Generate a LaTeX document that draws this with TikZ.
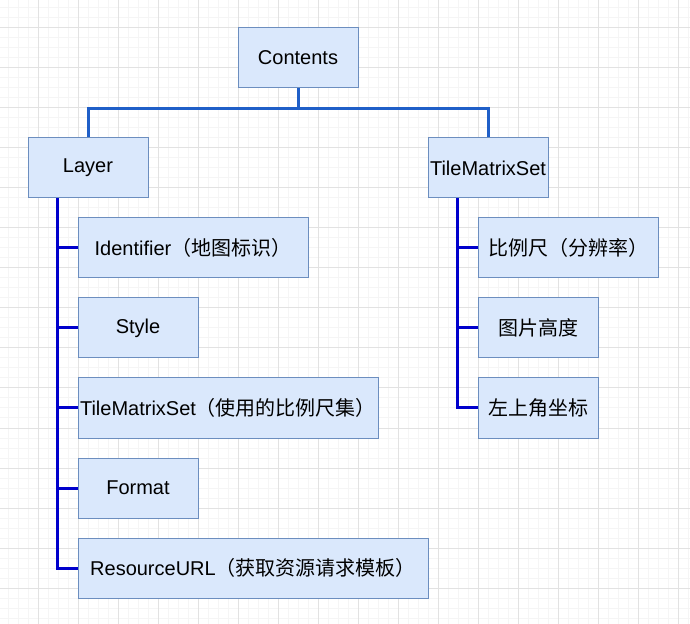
\documentclass[tikz,border=0pt]{standalone}
\usepackage{fontspec}
\setmainfont{Liberation Sans}
\newfontfamily\cjk{Noto Sans CJK SC}
\definecolor{boxfill}{HTML}{DAE8FC}
\definecolor{boxline}{HTML}{6C8EBF}
\definecolor{treeblue}{HTML}{1F5FC8}
\definecolor{leafblue}{HTML}{0000CC}
\definecolor{minorgrid}{HTML}{F5F5F5}
\definecolor{majorgrid}{HTML}{E2E2E2}
\begin{document}
\begin{tikzpicture}[x=0.75pt, y=-0.75pt,
  box/.style={draw=boxline, fill=boxfill, line width=0.75pt, minimum width=90pt,
    minimum height=45pt, inner sep=0pt, font=\fontsize{15}{18}\selectfont},
  tree/.style={draw=treeblue, line width=2.25pt},
  leaf/.style={draw=leafblue, line width=2.25pt}]
\useasboundingbox[fill=white] (0,0) rectangle (690,624);

% grid
\foreach \i in {8,18,...,688}
    \draw[minorgrid, line width=0.75pt] (\i,0) -- (\i,624);
\foreach \i in {8,18,...,618}
    \draw[minorgrid, line width=0.75pt] (0,\i) -- (690,\i);
\foreach \i in {38,78,...,678}
    \draw[majorgrid, line width=0.75pt] (\i,0) -- (\i,624);
\foreach \i in {28,68,...,608}
    \draw[majorgrid, line width=0.75pt] (0,\i) -- (690,\i);

\node[box] (contents) at (298,58) {Contents};
\node[box] (layer) at (88,168) {Layer};
\node[box] (tms) at (488,168) {TileMatrixSet};

\node[box, minimum width=172.5pt] (ident) at (193,248) {Identifier{\cjk （地图标识）}};
\node[box] (style) at (138,328) {Style};
\node[box, minimum width=225pt] (tmsuse) at (228,408) {TileMatrixSet{\cjk （使用的比例尺集）}};
\node[box] (format) at (138,488) {Format};
\node[box, minimum width=262.5pt] (resurl) at (253,568) {ResourceURL{\cjk （获取资源请求模板）}};

\node[box, minimum width=135pt] (scale) at (568,248) {\cjk 比例尺（分辨率）};
\node[box] (height) at (538,328) {\cjk 图片高度};
\node[box] (corner) at (538,408) {\cjk 左上角坐标};

\draw[tree] (contents.south) -- ++(0,20) -| (layer.north);
\draw[tree] (contents.south) -- ++(0,20) -| (tms.north);

\foreach \n in {ident,style,tmsuse,format,resurl}
    \draw[leaf] ([xshift=22.5pt]layer.south west) |- (\n.west);
\foreach \n in {scale,height,corner}
    \draw[leaf] ([xshift=22.5pt]tms.south west) |- (\n.west);
\end{tikzpicture}
\end{document}
